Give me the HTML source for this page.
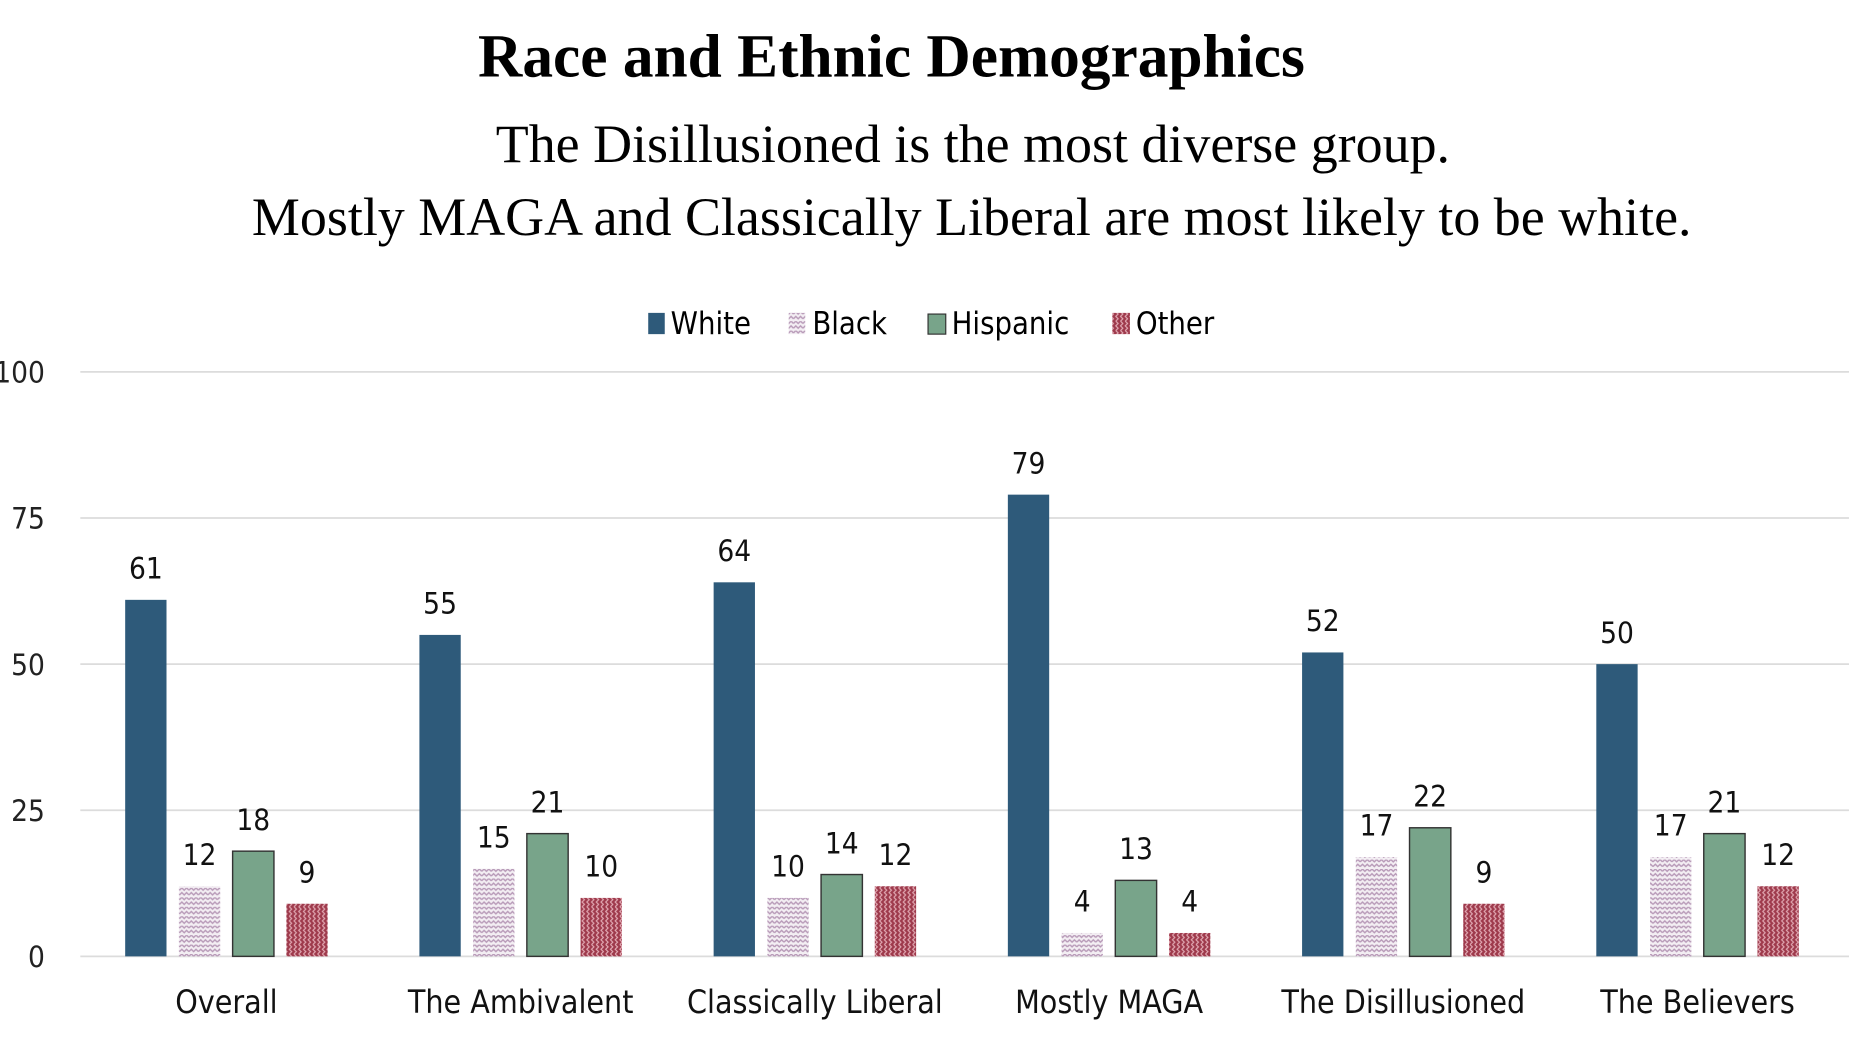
<!DOCTYPE html>
<html><head><meta charset="utf-8"><style>
html,body{margin:0;padding:0;background:#fff;}
svg{display:block;}
</style></head><body>
<svg id="chart" width="1849" height="1039" viewBox="0 0 1566 880" xmlns="http://www.w3.org/2000/svg">
<defs>
<pattern id="pBlack" width="8" height="8" patternUnits="userSpaceOnUse">
<rect width="8" height="8" fill="#f3eef3"/>
<path d="M0 2 L2 0 L4 2 L6 0 L8 2 M0 6 L2 4 L4 6 L6 4 L8 6" stroke="#b89ab8" stroke-width="1.2" fill="none"/>
</pattern>
<pattern id="pOther" width="8" height="8" patternUnits="userSpaceOnUse">
<rect width="8" height="8" fill="#9e3a4c"/>
<path d="M1 0 L3 2 L1 4 L3 6 L1 8 M5 0 L7 2 L5 4 L7 6 L5 8" stroke="#e2aab4" stroke-width="1" fill="none"/>
</pattern>
</defs>
<text x="755" y="65" text-anchor="middle" font-family="Liberation Serif, serif" font-weight="bold" font-size="52">Race and Ethnic Demographics</text>
<text x="824" y="137" text-anchor="middle" font-family="Liberation Serif, serif" font-size="45.7">The Disillusioned is the most diverse group.</text>
<text x="823" y="199" text-anchor="middle" font-family="Liberation Serif, serif" font-size="45.7">Mostly MAGA and Classically Liberal are most likely to be white.</text>
<g id="legend" font-family="DejaVu Sans Condensed, DejaVu Sans, sans-serif" font-size="26">
<g><rect x="549" y="265" width="14" height="18" fill="#2e5a7a"/><text x="568" y="283">White</text></g>
<g><rect x="668" y="265" width="14" height="18" fill="url(#pBlack)"/><text x="688" y="283">Black</text></g>
<g><rect x="786" y="266" width="15" height="17" fill="#78a48a" stroke="#333" stroke-width="1"/><text x="806" y="283">Hispanic</text></g>
<g><rect x="942" y="265" width="15" height="18" fill="url(#pOther)"/><text x="962" y="283">Other</text></g>
</g>
<g id="grid"></g>
<g id="bars"></g>
</svg>
<script>
const categories = ["Overall","The Ambivalent","Classically Liberal","Mostly MAGA","The Disillusioned","The Believers"];
const white = [61,55,64,79,52,50];
const black = [12,15,10,4,17,17];
const hispanic = [18,21,14,13,22,21];
const other = [9,10,12,4,9,12];
const yTicks = [0,25,50,75,100];

const NS = "http://www.w3.org/2000/svg";
const y0 = 810, y100 = 315;
function yScale(v){ return y0 - (y0 - y100) * v / 100; }
function groupX(i){ return 106 + i * 249.2; }
const barW = 35, step = 45.5;
const grid = document.getElementById('grid');
const barsG = document.getElementById('bars');
function mk(tag, attrs, parent){
  const el = document.createElementNS(NS, tag);
  for (const k in attrs) el.setAttribute(k, attrs[k]);
  parent.appendChild(el);
  return el;
}
yTicks.forEach(t => {
  const y = yScale(t);
  const ln = mk('line', {x1:68, x2:1566, y1:y, y2:y, stroke:'#dcdcdc', 'stroke-width':1.5}, grid);
  
  
  const tx = mk('text', {x:38, y:y+9, 'text-anchor':'end', 'font-family':'DejaVu Sans Condensed, DejaVu Sans, sans-serif', 'font-size':25, fill:'#222'}, grid);
  tx.textContent = t;
  
  
});
const series = [
  {name:'white', vals:white, fill:'#2e5a7a', stroke:'none'},
  {name:'black', vals:black, fill:'url(#pBlack)', stroke:'none'},
  {name:'hispanic', vals:hispanic, fill:'#78a48a', stroke:'#333'},
  {name:'other', vals:other, fill:'url(#pOther)', stroke:'none'}
];
categories.forEach((c, i) => {
  const gx = groupX(i);
  series.forEach((s, j) => {
    const v = s.vals[i];
    const x = gx + j * step;
    const y = yScale(v);
    const r = mk('rect', {x:x, y:y, width:barW, height:y0 - y, fill:s.fill, stroke:s.stroke, 'stroke-width':1.2}, barsG);
    
    
    const t = mk('text', {x:x + barW/2, y:y - 18, 'text-anchor':'middle', 'font-family':'DejaVu Sans Condensed, DejaVu Sans, sans-serif', 'font-size':25, fill:'#111'}, barsG);
    t.textContent = v;
    
    
  });
  const cx = gx + (3 * step + barW) / 2;
  const lab = mk('text', {x:cx, y:858, 'text-anchor':'middle', 'font-family':'DejaVu Sans Condensed, DejaVu Sans, sans-serif', 'font-size':27, fill:'#111'}, barsG);
  lab.textContent = c;
  
  
});
</script>
</body></html>
